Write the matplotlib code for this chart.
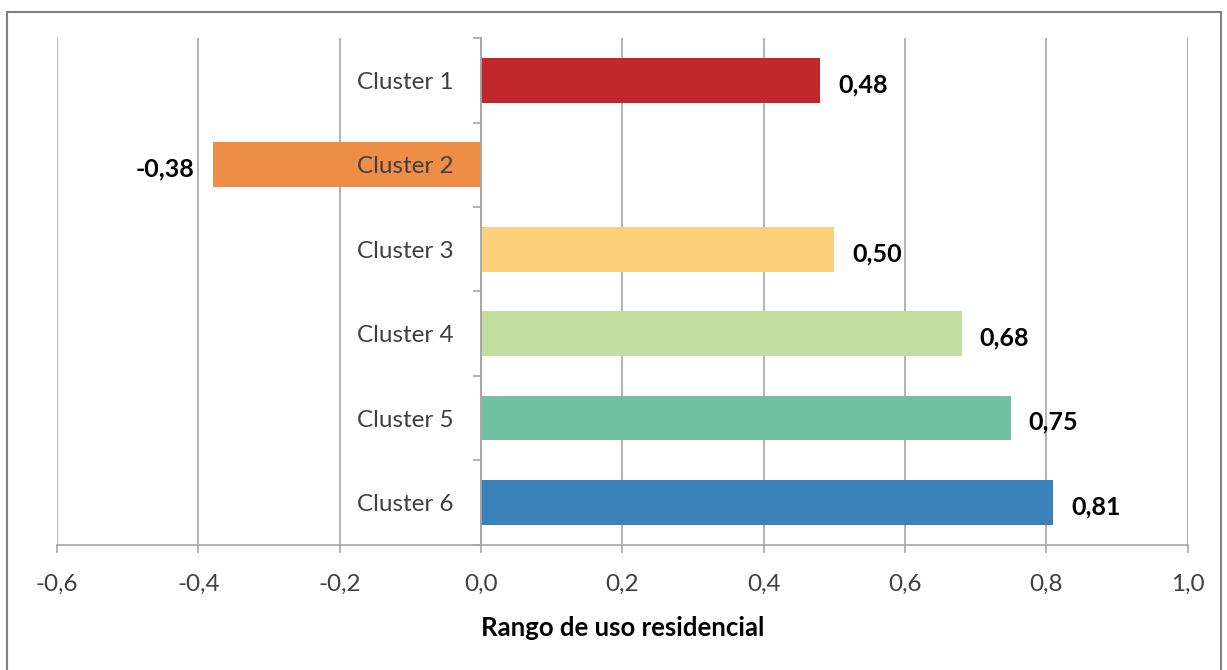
import matplotlib.pyplot as plt
from matplotlib.patches import Rectangle
from matplotlib.ticker import FuncFormatter, FixedLocator

plt.rcParams['font.family'] = ['Lato', 'DejaVu Sans']

clusters = ["Cluster 1", "Cluster 2", "Cluster 3", "Cluster 4", "Cluster 5", "Cluster 6"]
values = [0.48, -0.38, 0.50, 0.68, 0.75, 0.81]
colors = ["#C1272D", "#EE8D45", "#FAD07C", "#BFDEA0", "#74C0A5", "#3A83BA"]
x_ticks = [-0.6, -0.4, -0.2, 0.0, 0.2, 0.4, 0.6, 0.8, 1.0]

AXIS_GRAY = "#A6A6A6"
TEXT_GRAY = "#404040"


def comma(v, decimals):
    return f"{v:.{decimals}f}".replace(".", ",")


fig = plt.figure(figsize=(12.27, 6.70), dpi=100)
ax = fig.add_axes([0.0465, 0.187, 0.9215, 0.756])

# outer chart frame
fig.patches.append(Rectangle((0.0057, -0.05), 0.9897, 1.032, transform=fig.transFigure,
                             fill=False, edgecolor="#7F7F7F", linewidth=1.5))

# vertical gridlines behind the bars (category labels must stay on top)
for xt in x_ticks:
    ax.axvline(xt, color=AXIS_GRAY, linewidth=1.2, zorder=0)

y = list(range(len(clusters)))
ax.barh(y, values, height=0.53, color=colors, zorder=1)

for yi, v in zip(y, values):
    if v >= 0:
        ax.text(v + 0.025, yi + 0.05, comma(v, 2), ha="left", va="center",
                fontsize=18, fontweight="bold", color="black")
    else:
        ax.text(v - 0.025, yi + 0.05, comma(v, 2), ha="right", va="center",
                fontsize=18, fontweight="bold", color="black")

ax.set_xlim(-0.6, 1.0)
ax.set_ylim(len(clusters) - 0.5, -0.5)

ax.set_xticks(x_ticks)
ax.xaxis.set_major_formatter(FuncFormatter(lambda v, p: comma(v, 1)))

# category axis sits at x = 0, ticks between categories
ax.spines["left"].set_position(("data", 0))
ax.spines["left"].set_color(AXIS_GRAY)
ax.spines["left"].set_linewidth(1.2)
ax.spines["left"].set_zorder(3)
ax.spines["bottom"].set_color(AXIS_GRAY)
ax.spines["bottom"].set_linewidth(1.2)
ax.spines["top"].set_visible(False)
ax.spines["right"].set_visible(False)

ax.set_yticks(y)
ax.set_yticklabels(clusters)
ax.yaxis.set_minor_locator(FixedLocator([i - 0.5 for i in range(len(clusters) + 1)]))
ax.tick_params(axis="y", which="major", length=0, pad=20, labelsize=17.5, labelcolor=TEXT_GRAY)
ax.tick_params(axis="y", which="minor", length=6, width=1.2, color=AXIS_GRAY, direction="out")
ax.tick_params(axis="x", length=6, width=1.2, color=AXIS_GRAY, pad=15,
               labelsize=17.5, labelcolor=TEXT_GRAY)

ax.set_xlabel("Rango de uso residencial", fontsize=18.5, fontweight="bold", labelpad=15)

fig.savefig("out.png", dpi=100)
